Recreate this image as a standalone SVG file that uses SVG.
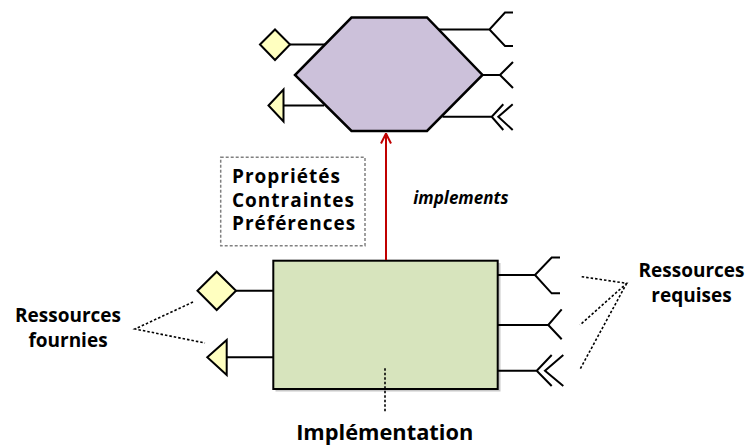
<svg xmlns="http://www.w3.org/2000/svg" width="750" height="445" viewBox="0 0 750 445">
<defs>
<style>
.ln{stroke:#000;stroke-width:2;fill:none;stroke-linejoin:miter}
.port{fill:#ffffc0;stroke:#000;stroke-width:2}
.dot{stroke:#000;stroke-width:1.6;stroke-dasharray:2.5 2;fill:none}
.lbl{font-family:"Open Sans","Liberation Sans",sans-serif;font-weight:bold;fill:#000}
.nt{font-size:19px;letter-spacing:1px}
</style>
<marker id="arr" viewBox="0 0 12 12" refX="11" refY="6" markerWidth="12" markerHeight="12" markerUnits="userSpaceOnUse" orient="auto">
<path d="M1,1 L11,6 L1,11" fill="none" stroke="#c00000" stroke-width="2"/>
</marker>
</defs>
<rect width="750" height="445" fill="#fff"/>

<g id="type">
<polygon points="351.5,17.5 427,17.5 482.5,75 427,131 351.5,131 295,75" fill="#ccc1da" stroke="#000" stroke-width="2.5"/>
<line class="ln" x1="290" y1="44.5" x2="325" y2="44.5"/>
<polygon class="port" points="260,44.5 275,29.5 290,44.5 275,60"/>
<line class="ln" x1="283" y1="105.5" x2="324" y2="105.5"/>
<polygon class="port" points="268.5,105.5 283.5,89.5 283.5,121.5"/>
<path class="ln" d="M439,29.5 H489.5 L505,12.5 H513 M489.5,29.5 L505,46 H513"/>
<path class="ln" d="M482.5,75 H500 L513,62 M500,75 L513,88"/>
<path class="ln" d="M442.5,116.7 H491.7 M503.3,104.3 L491.7,116.7 L503.3,130 M512.7,104.3 L498.3,116.7 L512.7,130"/>
</g>

<g id="implementation">
<rect x="275.5" y="263" width="225" height="128.5" fill="#c8c8c8"/>
<rect x="273.3" y="260.7" width="224.4" height="128.3" fill="#d7e4bd" stroke="#000" stroke-width="2"/>
<line class="ln" x1="236" y1="290.7" x2="273.3" y2="290.7"/>
<polygon class="port" points="197.5,290.7 216.7,271.7 236,290.7 216.7,310"/>
<line class="ln" x1="226.7" y1="357.3" x2="273.3" y2="357.3"/>
<polygon class="port" points="207.3,357.3 226.7,340 226.7,375"/>
<path class="ln" d="M497.7,275 H535 L551.7,257.5 H560 M535,275 L551.7,293.3 H560"/>
<path class="ln" d="M497.7,325 H548.3 L561.7,309.3 M548.3,325 L561.7,339.3"/>
<path class="ln" d="M497.7,370.7 H536.7 M551.7,355 L536.7,370.7 L551.7,386 M563.3,355 L545,370.7 L563.3,386"/>
</g>

<g id="note">
<rect x="220.7" y="157.3" width="144.3" height="88.4" fill="none" stroke="#808080" stroke-width="1.5" stroke-dasharray="3 2"/>
<text class="lbl nt" x="232" y="183">Propriétés</text>
<text class="lbl nt" x="232" y="206.5">Contraintes</text>
<text class="lbl nt" x="232" y="230">Préférences</text>
</g>

<g id="label-fournies">
<text class="lbl" x="68" y="321.7" text-anchor="middle" style="font-size:19px">Ressources</text>
<text class="lbl" x="68" y="347" text-anchor="middle" style="font-size:19px">fournies</text>
</g>
<g id="label-requises">
<text class="lbl" x="691.5" y="277.3" text-anchor="middle" style="font-size:19px">Ressources</text>
<text class="lbl" x="691.5" y="301.7" text-anchor="middle" style="font-size:19px">requises</text>
</g>
<g id="label-impl">
<text class="lbl" x="384.7" y="439.5" text-anchor="middle" style="font-size:21.8px">Implémentation</text>
</g>

<g id="connectors">
<line x1="386" y1="260" x2="386" y2="133.5" stroke="#c00000" stroke-width="2" marker-end="url(#arr)"/>
<text x="413.3" y="204" font-family="'Open Sans','Liberation Sans',sans-serif" font-weight="bold" font-style="italic" font-size="17px">implements</text>
<path class="dot" d="M193,302 L135,329 L205,343"/>
<path class="dot" d="M581.7,276.7 L626.7,283.3 L580,325 M626.7,283.3 L580,369.3"/>
<line class="dot" x1="385" y1="368.3" x2="385" y2="411.7"/>
</g>
</svg>
